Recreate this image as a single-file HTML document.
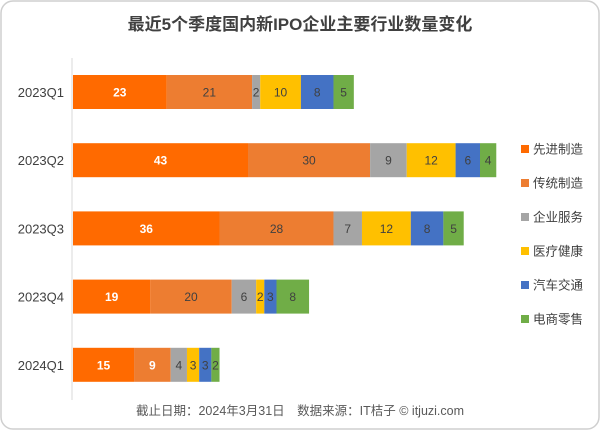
<!DOCTYPE html>
<html><head><meta charset="utf-8"><style>
html,body{margin:0;padding:0;background:#fff;width:600px;height:431px;overflow:hidden}
svg text{font-family:"Liberation Sans","Noto Sans CJK SC",sans-serif}
</style></head><body>
<svg id="c" width="600" height="431">
<rect x="1" y="1" width="598" height="428" rx="12" fill="#fff" stroke="#cfcfcf" stroke-width="1.5"/>
<text x="300" y="30" text-anchor="middle" font-size="17" font-weight="bold" fill="#404040">最近5个季度国内新IPO企业主要行业数量变化</text>
<line x1="72" y1="58" x2="72" y2="400" stroke="#d9d9d9"/>
<text x="300" y="415" text-anchor="middle" font-size="12.5" fill="#595959">截止日期：2024年3月31日　数据来源：IT桔子 © itjuzi.com</text>
<g id="bars"></g><g id="legend"></g>
</svg>
<script>
const categories=["2023Q1","2023Q2","2023Q3","2023Q4","2024Q1"];
const seriesNames=["先进制造","传统制造","企业服务","医疗健康","汽车交通","电商零售"];
const advanced=[23,43,36,19,15];
const traditional=[21,30,28,20,9];
const enterprise=[2,9,7,6,4];
const medical=[10,12,12,2,3];
const auto=[8,6,8,3,3];
const ecommerce=[5,4,5,8,2];
const series=[advanced,traditional,enterprise,medical,auto,ecommerce];
const colors=["#ff6a00","#ed7d31","#a5a5a5","#ffc000","#4472c4","#70ad47"];
const NS="http://www.w3.org/2000/svg";
const x0=73,scale=4.07;
const yPos=i=>75+i*68.2, bh=34;
const g=document.getElementById('bars');
categories.forEach((cat,i)=>{
  const t=document.createElementNS(NS,'text');
  t.setAttribute('x',64);t.setAttribute('y',yPos(i)+bh/2+5);t.setAttribute('text-anchor','end');
  t.setAttribute('font-size','13');t.setAttribute('fill','#404040');t.textContent=cat;
  
  
  g.appendChild(t);
  let acc=0;
  series.forEach((s,k)=>{
    const v=s[i];
    const r=document.createElementNS(NS,'rect');
    r.setAttribute('x',x0+acc*scale);r.setAttribute('y',yPos(i));
    r.setAttribute('width',v*scale);r.setAttribute('height',bh);r.setAttribute('fill',colors[k]);
    
    
    g.appendChild(r);
    const l=document.createElementNS(NS,'text');
    l.setAttribute('x',x0+(acc+v/2)*scale);l.setAttribute('y',yPos(i)+bh/2+4.5);
    l.setAttribute('text-anchor','middle');l.setAttribute('font-size','12');
    const white=k===0||(k===1&&v<10);
    l.setAttribute('fill',white?'#fff':'#404040');
    if(white)l.setAttribute('font-weight','bold');
    l.textContent=v;
    
    
    g.appendChild(l);
    acc+=v;
  });
});
const lg=document.getElementById('legend');
seriesNames.forEach((n,k)=>{
  const y=149+k*34;
  const r=document.createElementNS(NS,'rect');
  r.setAttribute('x',521);r.setAttribute('y',y-4);r.setAttribute('width',8);r.setAttribute('height',8);r.setAttribute('fill',colors[k]);
  
  
  lg.appendChild(r);
  const t=document.createElementNS(NS,'text');
  t.setAttribute('x',533);t.setAttribute('y',y+4.5);t.setAttribute('font-size','12.5');t.setAttribute('fill','#404040');t.textContent=n;
  
  
  lg.appendChild(t);
});
</script>
</body></html>
